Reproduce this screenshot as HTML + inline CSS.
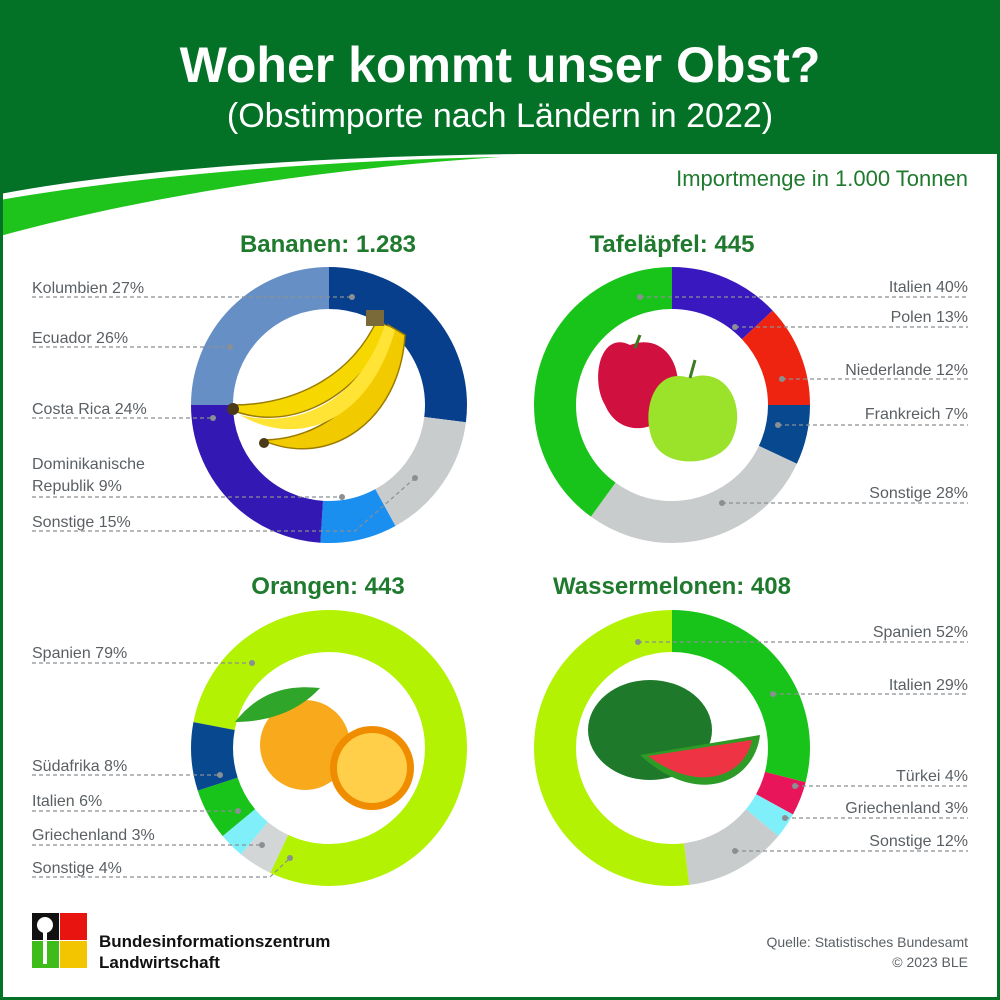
<!DOCTYPE html>
<html><head><meta charset="utf-8"><style>
html,body{margin:0;padding:0;background:#fff}
svg{display:block}
text{font-family:"Liberation Sans",sans-serif}
.l{font-size:16px;fill:#5a5f63}
.t{font-size:24px;font-weight:bold;fill:#1f7a2e}
.ln{stroke:#8a8f93;stroke-width:1.2;stroke-dasharray:4 3;fill:none}
.d{fill:#8a8f93}
</style></head><body>
<svg width="1000" height="1000" viewBox="0 0 1000 1000" xmlns="http://www.w3.org/2000/svg">
<rect x="0" y="0" width="1000" height="1000" fill="#fff"/>
<rect x="0" y="0" width="1000" height="240" fill="#037227"/>
<path d="M0,194 C150,166 350,156 520,154 L1000,154 L1000,1000 L0,1000Z" fill="#fff"/>
<path d="M0,200 C150,174 340,160 500,157 C330,168 150,195 0,236Z" fill="#1ec41b"/>
<rect x="1.5" y="1.5" width="997" height="997" fill="none" stroke="#037227" stroke-width="3"/>
<text x="500" y="82" text-anchor="middle" font-size="50" font-weight="bold" fill="#fff">Woher kommt unser Obst?</text>
<text x="500" y="127" text-anchor="middle" font-size="34" fill="#fff">(Obstimporte nach Ländern in 2022)</text>
<text x="968" y="186" text-anchor="end" font-size="22" fill="#1f7a2e">Importmenge in 1.000 Tonnen</text>

<text x="328" y="252" text-anchor="middle" class="t">Bananen: 1.283</text>
<text x="672" y="252" text-anchor="middle" class="t">Tafeläpfel: 445</text>
<text x="328" y="594" text-anchor="middle" class="t">Orangen: 443</text>
<text x="672" y="594" text-anchor="middle" class="t">Wassermelonen: 408</text>

<g fill="none" stroke-width="42">
<g transform="translate(329,405) rotate(-90)">
<circle r="117" stroke="#073f8d" pathLength="100" stroke-dasharray="27 100" stroke-dashoffset="0"/>
<circle r="117" stroke="#c9cccd" pathLength="100" stroke-dasharray="15 100" stroke-dashoffset="-27"/>
<circle r="117" stroke="#1a8ff0" pathLength="100" stroke-dasharray="9 100" stroke-dashoffset="-42"/>
<circle r="117" stroke="#3318b3" pathLength="100" stroke-dasharray="24 100" stroke-dashoffset="-51"/>
<circle r="117" stroke="#6690c5" pathLength="100" stroke-dasharray="25 100" stroke-dashoffset="-75"/>
</g>
<g transform="translate(672,405) rotate(-90)">
<circle r="117" stroke="#3a18c0" pathLength="100" stroke-dasharray="13 100" stroke-dashoffset="0"/>
<circle r="117" stroke="#ee2410" pathLength="100" stroke-dasharray="12 100" stroke-dashoffset="-13"/>
<circle r="117" stroke="#07488f" pathLength="100" stroke-dasharray="7 100" stroke-dashoffset="-25"/>
<circle r="117" stroke="#c9cccd" pathLength="100" stroke-dasharray="28 100" stroke-dashoffset="-32"/>
<circle r="117" stroke="#19c41a" pathLength="100" stroke-dasharray="40 100" stroke-dashoffset="-60"/>
</g>
<g transform="translate(329,748) rotate(-90)">
<circle r="117" stroke="#b2f202" pathLength="100" stroke-dasharray="57 100" stroke-dashoffset="0"/>
<circle r="117" stroke="#b2f202" pathLength="100" stroke-dasharray="22 100" stroke-dashoffset="-78"/>
<circle r="117" stroke="#d3d6d6" pathLength="100" stroke-dasharray="4 100" stroke-dashoffset="-57"/>
<circle r="117" stroke="#7ff0fa" pathLength="100" stroke-dasharray="3 100" stroke-dashoffset="-61"/>
<circle r="117" stroke="#19c41a" pathLength="100" stroke-dasharray="6 100" stroke-dashoffset="-64"/>
<circle r="117" stroke="#07488f" pathLength="100" stroke-dasharray="8 100" stroke-dashoffset="-70"/>
</g>
<g transform="translate(672,748) rotate(-90)">
<circle r="117" stroke="#19c41a" pathLength="100" stroke-dasharray="29 100" stroke-dashoffset="0"/>
<circle r="117" stroke="#e8155a" pathLength="100" stroke-dasharray="4 100" stroke-dashoffset="-29"/>
<circle r="117" stroke="#7ff0fa" pathLength="100" stroke-dasharray="3 100" stroke-dashoffset="-33"/>
<circle r="117" stroke="#c9cccd" pathLength="100" stroke-dasharray="12 100" stroke-dashoffset="-36"/>
<circle r="117" stroke="#b2f202" pathLength="100" stroke-dasharray="52 100" stroke-dashoffset="-48"/>
</g>
</g>

<g>
<path d="M232,410 C280,430 350,410 390,330 L378,318 C350,380 290,405 232,405Z" fill="#f6d800" stroke="#9a7b00" stroke-width="1.5"/>
<path d="M262,440 C330,470 400,420 405,335 L388,325 C375,400 320,440 262,440Z" fill="#f2ca00" stroke="#9a7b00" stroke-width="1.5"/>
<path d="M240,415 C300,450 370,420 395,330 L385,325 C360,400 300,430 240,415Z" fill="#ffe436"/>
<rect x="366" y="310" width="18" height="16" fill="#7a6a3a"/>
<circle cx="233" cy="409" r="6" fill="#4a3a1a"/>
<circle cx="264" cy="443" r="5" fill="#4a3a1a"/>

<path d="M630,345 C600,330 590,380 605,405 C620,440 660,430 670,410 C690,380 670,330 630,345Z" fill="#d0103e"/>
<path d="M690,378 C650,365 640,420 655,445 C670,470 720,465 732,440 C748,405 725,365 690,378Z" fill="#9be22a"/>
<path d="M695,360 L690,378" stroke="#3a7a20" stroke-width="3"/>
<path d="M640,335 L635,348" stroke="#3a7a20" stroke-width="3"/>

<circle cx="305" cy="745" r="45" fill="#f8aa1c"/>
<path d="M235,722 C260,690 290,685 320,688 C300,710 270,722 235,722Z" fill="#2fa52a"/>
<circle cx="372" cy="768" r="42" fill="#f08c00"/>
<circle cx="372" cy="768" r="35" fill="#ffcf4a"/>

<ellipse cx="650" cy="730" rx="62" ry="50" fill="#1e7a2a"/>
<path d="M640,755 L760,735 C755,780 700,810 640,755Z" fill="#2d9b26"/>
<path d="M648,756 L752,740 C745,775 700,795 648,756Z" fill="#ee3344"/>
</g>

<g class="l">
<text x="32" y="293">Kolumbien 27%</text>
<text x="32" y="343">Ecuador 26%</text>
<text x="32" y="414">Costa Rica 24%</text>
<text x="32" y="469">Dominikanische</text>
<text x="32" y="491">Republik 9%</text>
<text x="32" y="527">Sonstige 15%</text>
<g text-anchor="end">
<text x="968" y="292">Italien 40%</text>
<text x="968" y="322">Polen 13%</text>
<text x="968" y="375">Niederlande 12%</text>
<text x="968" y="419">Frankreich 7%</text>
<text x="968" y="498">Sonstige 28%</text>
<text x="968" y="637">Spanien 52%</text>
<text x="968" y="690">Italien 29%</text>
<text x="968" y="781">Türkei 4%</text>
<text x="968" y="813">Griechenland 3%</text>
<text x="968" y="846">Sonstige 12%</text>
</g>
<text x="32" y="658">Spanien 79%</text>
<text x="32" y="771">Südafrika 8%</text>
<text x="32" y="806">Italien 6%</text>
<text x="32" y="840">Griechenland 3%</text>
<text x="32" y="873">Sonstige 4%</text>
</g>
<g class="ln">
<path d="M32,297H352"/><path d="M32,347H230"/><path d="M32,418H213"/><path d="M32,497H342"/><path d="M32,531H355L415,478"/>
<path d="M640,297H968"/><path d="M735,327H968"/><path d="M782,379H968"/><path d="M778,425H968"/><path d="M722,503H968"/>
<path d="M32,663H252"/><path d="M32,775H220"/><path d="M32,811H238"/><path d="M32,845H262"/><path d="M32,877H270L290,858"/>
<path d="M638,642H968"/><path d="M773,694H968"/><path d="M795,786H968"/><path d="M785,818H968"/><path d="M735,851H968"/>
</g>
<g class="d">
<circle cx="352" cy="297" r="3"/><circle cx="230" cy="347" r="3"/><circle cx="213" cy="418" r="3"/><circle cx="342" cy="497" r="3"/><circle cx="415" cy="478" r="3"/>
<circle cx="640" cy="297" r="3"/><circle cx="735" cy="327" r="3"/><circle cx="782" cy="379" r="3"/><circle cx="778" cy="425" r="3"/><circle cx="722" cy="503" r="3"/>
<circle cx="252" cy="663" r="3"/><circle cx="220" cy="775" r="3"/><circle cx="238" cy="811" r="3"/><circle cx="262" cy="845" r="3"/><circle cx="290" cy="858" r="3"/>
<circle cx="638" cy="642" r="3"/><circle cx="773" cy="694" r="3"/><circle cx="795" cy="786" r="3"/><circle cx="785" cy="818" r="3"/><circle cx="735" cy="851" r="3"/>
</g>

<rect x="32" y="913" width="27" height="27" fill="#111"/>
<rect x="60" y="913" width="27" height="27" fill="#e8140f"/>
<rect x="32" y="941" width="27" height="27" fill="#3ebd1a"/>
<rect x="60" y="941" width="27" height="27" fill="#f2c500"/>
<circle cx="45" cy="925" r="8" fill="#fff"/>
<rect x="43" y="930" width="4" height="34" fill="#fff"/>
<text x="99" y="947" font-size="17" font-weight="bold" fill="#111">Bundesinformationszentrum</text>
<text x="99" y="968" font-size="17" font-weight="bold" fill="#111">Landwirtschaft</text>
<text x="968" y="947" text-anchor="end" font-size="14" fill="#5a5f63">Quelle: Statistisches Bundesamt</text>
<text x="968" y="967" text-anchor="end" font-size="14" fill="#5a5f63">© 2023 BLE</text>
</svg>
</body></html>
